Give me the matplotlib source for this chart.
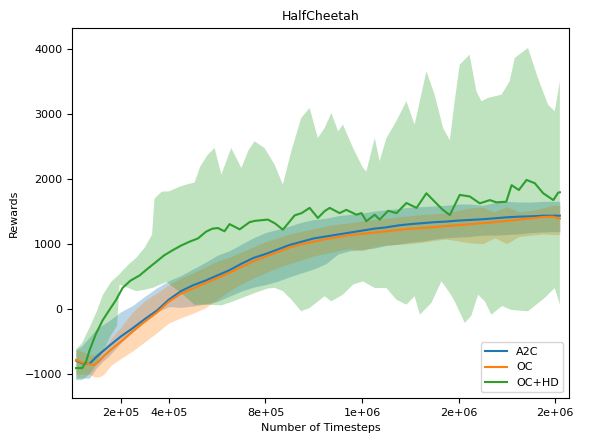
#!/usr/bin/env python3
"""
HalfCheetah reward curves (A2C / OC / OC+HD) with shaded spread.
"""
import matplotlib
matplotlib.use("Agg")
import matplotlib.pyplot as plt
from matplotlib.ticker import FuncFormatter
import numpy as np

# timesteps are given in millions
a2c_x = [0.015, 0.04, 0.07, 0.10, 0.125, 0.15, 0.2, 0.25, 0.3, 0.35, 0.4, 0.45, 0.5,
         0.55, 0.6, 0.65, 0.7, 0.75, 0.8, 0.85, 0.9, 0.95, 1.0, 1.05, 1.1, 1.15, 1.2,
         1.25, 1.3, 1.35, 1.4, 1.45, 1.5, 1.55, 1.6, 1.65, 1.7, 1.75, 1.8, 1.85, 1.9,
         1.95, 2.0, 2.02]
a2c_mean = [-790, -830, -840, -730, -650, -570, -420, -290, -150, -20, 150, 280, 370,
            440, 520, 600, 700, 790, 850, 920, 990, 1040, 1090, 1120, 1150, 1180, 1210,
            1240, 1260, 1290, 1310, 1325, 1340, 1350, 1365, 1375, 1385, 1400, 1415, 1425, 1430,
            1440, 1440, 1440]
a2c_low = [-1060, -1060, -1060, -900, -800, -720, -520, -350, -180, -40, 40, 30, 50,
           80, 120, 200, 280, 340, 380, 430, 500, 560, 620, 700, 850, 900, 920,
           940, 980, 1000, 1030, 1050, 1080, 1100, 1110, 1120, 1140, 1140, 1150, 1160, 1180,
           1190, 1195, 1195]
a2c_high = [-620, -560, -430, -300, -240, -180, -40, 60, 200, 330, 440, 520, 620,
            720, 830, 900, 1000, 1100, 1180, 1230, 1280, 1340, 1380, 1400, 1440, 1460, 1480,
            1510, 1530, 1550, 1570, 1580, 1590, 1600, 1620, 1620, 1600, 1640, 1660, 1650, 1650,
            1660, 1660, 1660]

oc_x = [0.015, 0.04, 0.07, 0.09, 0.11, 0.13, 0.16, 0.2, 0.25, 0.3, 0.35, 0.4, 0.45, 0.5,
        0.55, 0.6, 0.65, 0.7, 0.75, 0.8, 0.85, 0.9, 0.95, 1.0, 1.05, 1.1, 1.15, 1.2,
        1.25, 1.3, 1.35, 1.4, 1.45, 1.5, 1.55, 1.6, 1.65, 1.7, 1.75, 1.8, 1.85, 1.9,
        1.95, 1.99, 2.02]
oc_mean = [-780, -820, -845, -855, -800, -720, -620, -500, -340, -190, -50, 120, 240, 320,
           400, 480, 560, 650, 740, 810, 880, 950, 1000, 1040, 1080, 1110, 1140, 1160,
           1180, 1200, 1220, 1240, 1250, 1265, 1280, 1295, 1310, 1325, 1340, 1360, 1380, 1400,
           1420, 1425, 1395]
oc_low = [-1000, -1000, -1000, -1040, -1040, -1000, -860, -760, -640, -500, -360, -210, -130, -60,
          20, 150, 280, 390, 480, 560, 640, 700, 760, 820, 860, 900, 930, 900,
          960, 990, 1000, 1010, 1030, 1060, 1080, 1050, 1020, 1010, 1100, 1010, 1120, 1140,
          1160, 1150, 1150]
oc_high = [-620, -650, -700, -700, -650, -600, -450, -280, -40, 130, 250, 380, 480, 560,
           650, 740, 800, 880, 960, 1040, 1100, 1160, 1200, 1240, 1280, 1310, 1330, 1360,
           1380, 1400, 1420, 1440, 1460, 1470, 1480, 1520, 1560, 1570, 1500, 1580, 1500, 1520,
           1560, 1600, 1600]

ochd_x = [0.015, 0.04, 0.056, 0.07, 0.097, 0.125, 0.153, 0.18, 0.208, 0.24, 0.278, 0.31,
          0.347, 0.38, 0.416, 0.45, 0.485, 0.52, 0.554, 0.58, 0.603, 0.63, 0.651, 0.693,
          0.734, 0.755, 0.81, 0.84, 0.872, 0.9, 0.921, 0.95, 0.983, 1.017, 1.045, 1.066,
          1.107, 1.135, 1.177, 1.198, 1.218, 1.253, 1.273, 1.308, 1.343, 1.384, 1.426,
          1.467, 1.508, 1.535, 1.564, 1.605, 1.647, 1.688, 1.73, 1.757, 1.798, 1.82, 1.85,
          1.882, 1.916, 1.951, 1.993, 2.013, 2.02]
ochd_mean = [-905, -905, -810, -640, -380, -170, -10, 140, 330, 440, 520, 620,
             730, 830, 910, 980, 1040, 1090, 1195, 1240, 1250, 1200, 1310, 1230,
             1340, 1360, 1380, 1320, 1225, 1350, 1445, 1480, 1560, 1405, 1510, 1560,
             1480, 1530, 1455, 1480, 1355, 1455, 1380, 1515, 1480, 1635, 1560,
             1785, 1630, 1530, 1450, 1760, 1735, 1630, 1680, 1645, 1655, 1910, 1835,
             1990, 1940, 1785, 1680, 1795, 1800]

ochd_high_x = [0.015, 0.04, 0.07, 0.1, 0.126, 0.16, 0.195, 0.23, 0.264, 0.3, 0.33, 0.34,
               0.37, 0.402, 0.44, 0.471, 0.506, 0.53, 0.561, 0.589, 0.617, 0.64, 0.658,
               0.70, 0.73, 0.755, 0.796, 0.838, 0.872, 0.907, 0.948, 0.983, 1.017, 1.045,
               1.073, 1.101, 1.121, 1.163, 1.204, 1.218, 1.253, 1.273, 1.301, 1.342, 1.384,
               1.418, 1.467, 1.501, 1.536, 1.564, 1.584, 1.605, 1.646, 1.674, 1.695, 1.722,
               1.778, 1.812, 1.833, 1.888, 1.929, 1.971, 1.999, 2.02]
ochd_high = [-620, -520, -290, -40, 220, 420, 540, 680, 790, 950, 1150, 1700,
             1810, 1815, 1880, 1917, 1950, 2200, 2378, 2480, 2071, 2300, 2481,
             2174, 2450, 2585, 2480, 2225, 1917, 2431, 2943, 3097, 2635, 2789,
             3020, 2738, 2840, 2481, 2174, 2120, 2635, 2277, 2630, 2892, 3200,
             2840, 3662, 3302, 2789, 2600, 3200, 3763, 3917, 3354, 3200, 3251,
             3302, 3508, 3866, 4020, 3558, 3148, 3046, 3508]

ochd_low_x = [0.015, 0.04, 0.071, 0.1, 0.126, 0.16, 0.185, 0.195, 0.23, 0.264, 0.3, 0.333,
              0.39, 0.45, 0.506, 0.561, 0.617, 0.658, 0.70, 0.755, 0.81, 0.838, 0.872,
              0.907, 0.948, 0.983, 1.017, 1.045, 1.073, 1.121, 1.163, 1.204, 1.253, 1.301,
              1.342, 1.384, 1.418, 1.44, 1.488, 1.529, 1.564, 1.584, 1.626, 1.653, 1.681,
              1.709, 1.736, 1.78, 1.819, 1.888, 1.957, 1.999, 2.02]
ochd_low = [-1090, -1090, -1000, -850, -650, -400, -250, 380, 330, 280, 300, 330,
            420, 250, 70, 70, 60, 110, 170, 250, 320, 330, 280,
            150, -30, 20, 120, 200, 123, 225, 380, 430, 328, 328,
            150, 71, 200, -83, 100, 431, 250, 123, -211, -100, 225,
            123, -83, 50, -10, -31, 174, 328, 71]

x_ticks = [2e5, 4e5, 8e5, 1.2e6, 1.6e6, 2e6]
STEP = 1e6

blue, orange, green = "tab:blue", "tab:orange", "tab:green"

fig = plt.figure(figsize=(5.92, 4.43), dpi=100)
ax = fig.add_axes([0.1216, 0.1016, 0.8396, 0.8345])

# shaded spread
ax.fill_between(np.array(a2c_x) * STEP, a2c_low, a2c_high, color=blue, alpha=0.3, lw=0)
ax.fill_between(np.array(oc_x) * STEP, oc_low, oc_high, color=orange, alpha=0.3, lw=0)
poly_x = np.concatenate([np.array(ochd_high_x), np.array(ochd_low_x)[::-1]]) * STEP
poly_y = np.concatenate([ochd_high, ochd_low[::-1]])
ax.fill(poly_x, poly_y, color=green, alpha=0.3, lw=0)

ax.plot(np.array(a2c_x) * STEP, a2c_mean, color=blue, lw=1.5, label="A2C")
ax.plot(np.array(oc_x) * STEP, oc_mean, color=orange, lw=1.5, label="OC")
ax.plot(np.array(ochd_x) * STEP, ochd_mean, color=green, lw=1.5, label="OC+HD")

ax.set_xlim(-0.002 * STEP, 2.058 * STEP)
ax.set_ylim(-1365, 4323)
ax.set_xticks(x_ticks)
ax.xaxis.set_major_formatter(FuncFormatter(lambda v, p: "{:.0e}".format(v)))
ax.tick_params(labelsize=8)

ax.set_title("HalfCheetah", fontsize=9)
ax.set_xlabel("Number of Timesteps", fontsize=8)
ax.set_ylabel("Rewards", fontsize=8)
ax.legend(loc="lower right", fontsize=8)

fig.savefig("out.png", dpi=100)
